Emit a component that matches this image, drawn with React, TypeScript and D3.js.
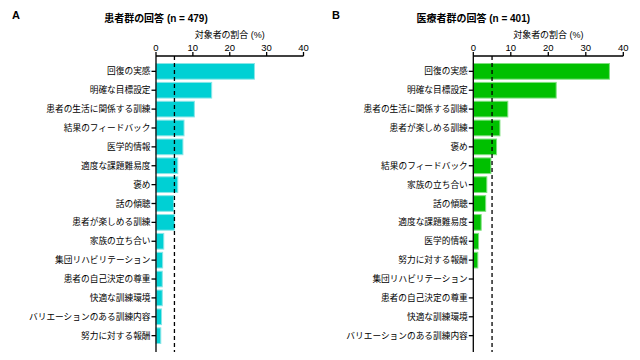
import React from "react";
import * as d3 from "d3";

const catsA = [
  "回復の実感", "明確な目標設定", "患者の生活に関係する訓練", "結果のフィードバック",
  "医学的情報", "適度な課題難易度", "褒め", "話の傾聴", "患者が楽しめる訓練",
  "家族の立ち合い", "集団リハビリテーション", "患者の自己決定の尊重",
  "快適な訓練環境", "バリエーションのある訓練内容", "努力に対する報酬",
];
const valsA = [26.7, 15.1, 10.4, 7.6, 7.3, 5.9, 5.9, 4.8, 5.0, 2.1, 1.8, 1.7, 1.7, 1.5, 1.3];

const catsB = [
  "回復の実感", "明確な目標設定", "患者の生活に関係する訓練", "患者が楽しめる訓練",
  "褒め", "結果のフィードバック", "家族の立ち合い", "話の傾聴", "適度な課題難易度",
  "医学的情報", "努力に対する報酬", "集団リハビリテーション", "患者の自己決定の尊重",
  "快適な訓練環境", "バリエーションのある訓練内容",
];
const valsB = [36.3, 22.1, 9.2, 7.1, 6.2, 4.7, 3.6, 3.3, 2.1, 1.4, 1.2, 0, 0, 0, 0];

const xTicks = [0, 10, 20, 30, 40];
const refLine = 5;

const font = "'Liberation Sans', 'Noto Sans CJK JP', sans-serif";
const palt = { fontFeatureSettings: "'palt'" };

function Panel({ letter, title, cats, vals, x0, x1, fill, stroke, ox }) {
  const x = d3.scaleLinear().domain([0, 40]).range([x0, x1]);
  const y = d3.scaleBand().domain(cats).range([62, 345]).paddingInner(0.17).paddingOuter(0.08);
  const axisTop = 56;
  const axisBottom = 352;
  return (
    <g fontFamily={font}>
      <text x={ox + 12} y={19} fontSize={11} fontWeight="bold">{letter}</text>
      <text x={x0} y={22} fontSize={10} fontWeight="bold" textAnchor="middle" style={palt}>{title}</text>
      <text x={(x0 + x1) / 2} y={38} fontSize={9} textAnchor="middle" style={palt}>対象者の割合 (%)</text>
      {cats.map((c, i) => (
        <rect key={c} x={x(0)} y={y(c)} width={Math.max(0, x(vals[i]) - x(0))} height={y.bandwidth()}
          fill={fill} stroke={vals[i] > 0 ? stroke : "none"} strokeWidth={1} />
      ))}
      <line x1={x(refLine)} x2={x(refLine)} y1={axisTop} y2={axisBottom} stroke="#000" strokeWidth={1.3} strokeDasharray="4,3" />
      <line x1={x(0)} x2={x(40)} y1={axisTop} y2={axisTop} stroke="#000" strokeWidth={1.3} />
      {xTicks.map((t) => (
        <g key={t}>
          <line x1={x(t)} x2={x(t)} y1={axisTop} y2={axisTop - 4} stroke="#000" strokeWidth={1.3} />
          <text x={x(t)} y={axisTop - 5} fontSize={9.5} textAnchor="middle">{t}</text>
        </g>
      ))}
      <line x1={x(0)} x2={x(0)} y1={axisTop} y2={axisBottom} stroke="#000" strokeWidth={1.3} />
      {cats.map((c) => (
        <g key={c}>
          <line x1={x(0) - 4.5} x2={x(0)} y1={y(c) + y.bandwidth() / 2} y2={y(c) + y.bandwidth() / 2} stroke="#000" strokeWidth={1.3} />
          <text x={x(0) - 5.5} y={y(c) + y.bandwidth() / 2} dy="0.35em" fontSize={8.7} textAnchor="end">{c}</text>
        </g>
      ))}
    </g>
  );
}

export default function App() {
  return (
    <svg width={640} height={360} style={{ position: "absolute", left: 0, top: 0, background: "#fff" }}>
      <rect width={640} height={360} fill="#fff" />
      <Panel letter="A" title="患者群の回答 (n = 479)" cats={catsA} vals={valsA}
        x0={156} x1={303.5} fill="#00d0d4" stroke="#8ae6e8" ox={0} />
      <Panel letter="B" title="医療者群の回答 (n = 401)" cats={catsB} vals={valsB}
        x0={473.3} x1={623.3} fill="#00c000" stroke="#7ee07e" ox={320} />
    </svg>
  );
}
